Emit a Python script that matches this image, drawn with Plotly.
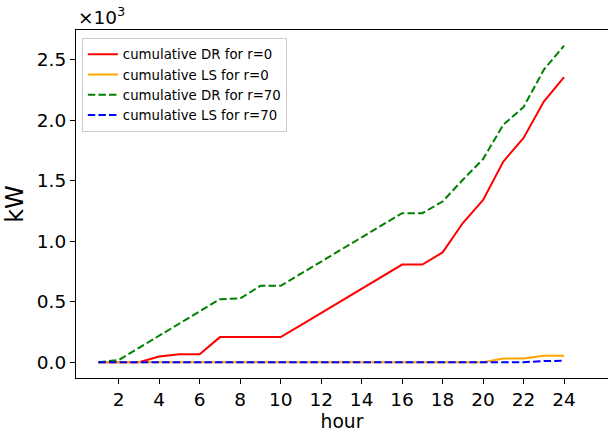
import plotly.graph_objects as go

# Hourly cumulative demand response (DR) and load shedding (LS), in kW
hours = list(range(1, 25))
dr_r0 = [0, 0, 0, 46, 66, 66, 207, 207, 207, 207, 307, 407, 507, 607, 707, 807,
         807, 907, 1150, 1341, 1659, 1853, 2155, 2357]
ls_r0 = [0] * 20 + [30, 30, 53, 53]
dr_r70 = [0, 17, 118, 219, 319, 420, 521, 526, 631, 631, 731, 831, 931, 1032,
          1132, 1232, 1232, 1328, 1508, 1679, 1963, 2109, 2418, 2616]
ls_r70 = [0] * 22 + [9, 11]

y_tick_vals = [0, 500, 1000, 1500, 2000, 2500]
y_tick_text = ["0.0", "0.5", "1.0", "1.5", "2.0", "2.5"]
x_tick_vals = list(range(2, 25, 2))

FONT = "DejaVu Sans"
dash = "7.4px,3.2px"

fig = go.Figure()
fig.add_trace(go.Scatter(x=hours, y=dr_r0, mode="lines", name="cumulative DR for r=0",
                         line=dict(color="red", width=2)))
fig.add_trace(go.Scatter(x=hours, y=ls_r0, mode="lines", name="cumulative LS for r=0",
                         line=dict(color="orange", width=2)))
fig.add_trace(go.Scatter(x=hours, y=dr_r70, mode="lines", name="cumulative DR for r=70",
                         line=dict(color="green", width=2, dash=dash)))
fig.add_trace(go.Scatter(x=hours, y=ls_r70, mode="lines", name="cumulative LS for r=70",
                         line=dict(color="blue", width=2, dash=dash)))

fig.update_layout(
    width=608, height=432,
    margin=dict(l=76, r=0, t=30, b=54),
    paper_bgcolor="white", plot_bgcolor="white",
    font=dict(family=FONT, color="black"),
    showlegend=True,
    legend=dict(
        x=0.011, y=0.977, xanchor="left", yanchor="top",
        bgcolor="rgba(255,255,255,0.8)", bordercolor="#cccccc", borderwidth=1,
        font=dict(family=FONT, size=13.3, color="black"),
        tracegroupgap=0, itemwidth=30,
    ),
    xaxis=dict(
        range=[-0.11, 26.17],
        tickmode="array", tickvals=x_tick_vals,
        ticks="outside", ticklen=5, tickwidth=1, tickcolor="black",
        tickfont=dict(family=FONT, size=18.5, color="black"),
        showgrid=False, zeroline=False,
        showline=True, linecolor="black", linewidth=1.1, mirror=True,
        title=dict(text="hour", font=dict(family=FONT, size=18.7, color="black"), standoff=6),
    ),
    yaxis=dict(
        range=[-131, 2746],
        tickmode="array", tickvals=y_tick_vals, ticktext=y_tick_text,
        ticks="outside", ticklen=5, tickwidth=1, tickcolor="black",
        tickfont=dict(family=FONT, size=18.5, color="black"),
        showgrid=False, zeroline=False,
        showline=True, linecolor="black", linewidth=1.1, mirror=False,
        title=dict(text="kW", font=dict(family=FONT, size=24, color="black"), standoff=6),
    ),
    annotations=[dict(
        text="×10<sup>3</sup>", xref="paper", yref="paper", x=0, y=1,
        xanchor="left", yanchor="bottom", showarrow=False, yshift=0,
        font=dict(family=FONT, size=18.5, color="black"),
    )],
)

fig.write_html("out.html")
